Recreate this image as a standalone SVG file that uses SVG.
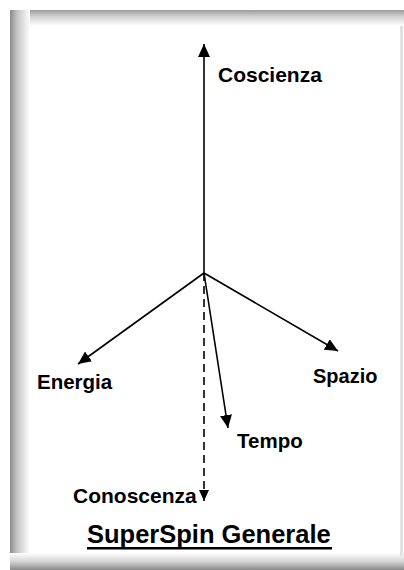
<svg xmlns="http://www.w3.org/2000/svg" width="404" height="570" viewBox="0 0 404 570">
<defs>
<linearGradient id="gl" x1="0" y1="0" x2="1" y2="0"><stop offset="0" stop-color="#8a8a8a"/><stop offset="0.35" stop-color="#c4c4c4"/><stop offset="1" stop-color="#ffffff"/></linearGradient>
<linearGradient id="gt" x1="0" y1="0" x2="0" y2="1"><stop offset="0" stop-color="#9a9a9a"/><stop offset="0.4" stop-color="#d0d0d0"/><stop offset="1" stop-color="#ffffff"/></linearGradient>
<linearGradient id="gb" x1="0" y1="0" x2="0" y2="1"><stop offset="0" stop-color="#ffffff"/><stop offset="0.5" stop-color="#d4d4d4"/><stop offset="1" stop-color="#8a8a8a"/></linearGradient>
<marker id="ah" markerUnits="userSpaceOnUse" markerWidth="14" markerHeight="12" refX="13" refY="6" orient="auto"><path d="M0,0 L13,6 L0,12 Z" fill="#000"/></marker>
<marker id="ahs" markerUnits="userSpaceOnUse" markerWidth="12" markerHeight="10" refX="11" refY="5" orient="auto"><path d="M0,0 L11,5 L0,10 Z" fill="#000"/></marker>
</defs>
<style>
.lbl{font-family:"Liberation Sans",Arial,sans-serif;font-weight:bold;fill:#000}
.ttl{font-family:"Liberation Sans",Arial,sans-serif;font-weight:bold;font-size:25.5px;fill:#000}
.ax{stroke:#000;stroke-width:1.6;fill:none}
</style>
<rect width="404" height="570" fill="#fff"/>
<g id="frame">
<rect x="10" y="10" width="394" height="16" fill="url(#gt)"/>
<rect x="10" y="10" width="20" height="560" fill="url(#gl)"/>
<rect x="10" y="553" width="394" height="17" fill="url(#gb)"/>
<rect x="400" y="26" width="3" height="530" fill="#e2e2e2"/>
</g>
<g id="connectors">
<line class="ax" x1="204" y1="273" x2="204" y2="44" marker-end="url(#ah)"/>
<line class="ax" x1="204" y1="273" x2="78" y2="364" marker-end="url(#ah)"/>
<line class="ax" x1="204" y1="273" x2="338" y2="351" marker-end="url(#ah)"/>
<line class="ax" x1="204" y1="273" x2="228" y2="428" marker-end="url(#ah)"/>
<line class="ax" x1="204" y1="273" x2="204" y2="501" stroke-width="2" stroke-dasharray="8,5" marker-end="url(#ahs)"/>
</g>
<g id="coscienza"><text class="lbl" x="218" y="82" font-size="21">Coscienza</text></g>
<g id="energia"><text class="lbl" x="37" y="389" font-size="20.5">Energia</text></g>
<g id="spazio"><text class="lbl" x="313" y="383" font-size="20">Spazio</text></g>
<g id="tempo"><text class="lbl" x="237" y="448" font-size="20.5">Tempo</text></g>
<g id="conoscenza"><text class="lbl" x="73" y="503" font-size="21">Conoscenza</text></g>
<g id="title">
<text class="ttl" x="87" y="543">SuperSpin Generale</text>
<rect x="87" y="547" width="245" height="2.5" fill="#000"/>
</g>
</svg>
